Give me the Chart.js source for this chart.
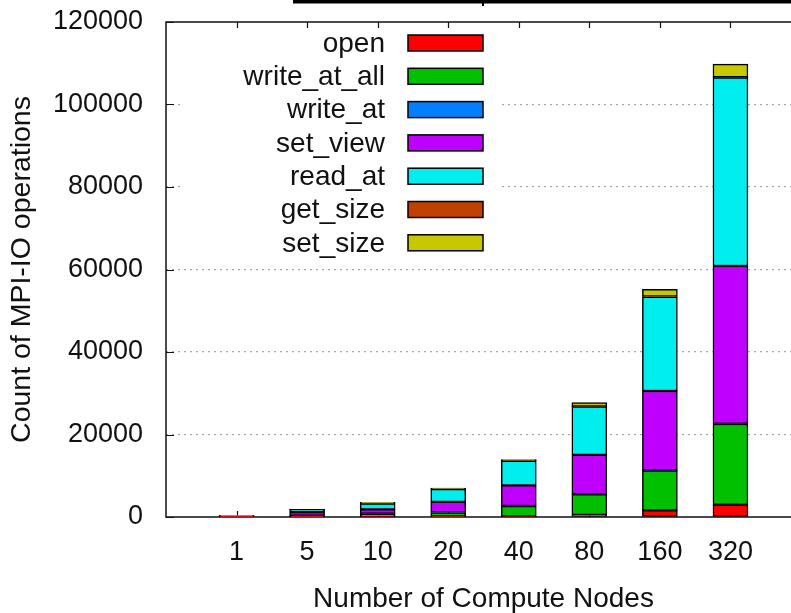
<!DOCTYPE html>
<html>
<head>
<meta charset="utf-8">
<script src="https://cdn.jsdelivr.net/npm/chart.js@4/dist/chart.umd.min.js"></script>
<style>
  html, body { margin: 0; padding: 0; background: #fff; overflow: hidden; }
  #wrap { width: 810px; height: 613px; }
</style>
</head>
<body>
<div id="wrap"><canvas id="c" width="810" height="613"></canvas></div>
<script>
// Number of compute nodes (x categories)
const nodes = ['1', '5', '10', '20', '40', '80', '160', '320'];

// MPI-IO operation counts per node count, stacked bottom to top
const openOps    = [10,  20,  80,   150,  80,   500,   1600,  3000];
const writeAtAll = [60,  250, 650,  950,  2550, 5000,  9650,  19550];
const writeAt    = [10,  30,  100,  100,  50,   50,    50,    100];
const setView    = [150, 900, 1000, 2450, 5000, 9500,  19250, 38200];
const readAt     = [130, 650, 1450, 3100, 5950, 11700, 22850, 45650];
const getSize    = [5,   10,  30,   50,   20,   50,    50,    100];
const setSize    = [30,  80,  250,  200,  250,  950,   1750,  3200];

const yTicks = [0, 20000, 40000, 60000, 80000, 100000, 120000];

const series = [
  ['open',         openOps,    '#ff0000'],
  ['write_at_all', writeAtAll, '#00c000'],
  ['write_at',     writeAt,    '#0080ff'],
  ['set_view',     setView,    '#c000ff'],
  ['read_at',      readAt,     '#00eeee'],
  ['get_size',     getSize,    '#c04000'],
  ['set_size',     setSize,    '#c8c800']
];

const FONT = '"Liberation Sans", Arial, Helvetica, sans-serif';

// Frame, inward tick marks and the key box (drawn under the bars)
const frameAndKey = {
  id: 'frameAndKey',
  beforeDatasetsDraw(chart) {
    const { ctx, chartArea: a, scales: { x, y } } = chart;
    ctx.save();
    // key
    ctx.fillStyle = '#fff';
    ctx.fillRect(183, 25, 317, 238);
    ctx.font = '28px ' + FONT;
    ctx.textAlign = 'right';
    ctx.textBaseline = 'middle';
    chart.data.datasets.forEach((ds, i) => {
      const cy = 43 + i * 33.3;
      ctx.fillStyle = '#111';
      ctx.fillText(ds.label, 385, cy + 1);
      ctx.fillStyle = ds.backgroundColor;
      ctx.fillRect(408, cy - 8, 75, 16);
      ctx.strokeStyle = '#000';
      ctx.lineWidth = 1.5;
      ctx.strokeRect(408, cy - 8, 75, 16);
    });
    // border
    ctx.strokeStyle = '#111';
    ctx.lineWidth = 1.5;
    ctx.beginPath();
    ctx.moveTo(a.right + 20, a.top);
    ctx.lineTo(a.left, a.top);
    ctx.lineTo(a.left, a.bottom);
    ctx.lineTo(a.right + 20, a.bottom);
    ctx.stroke();
    // inward ticks
    ctx.lineWidth = 1.2;
    ctx.beginPath();
    yTicks.forEach(v => {
      const py = Math.round(y.getPixelForValue(v)) + 0.5;
      ctx.moveTo(a.left, py); ctx.lineTo(a.left + 8, py);
    });
    nodes.forEach((n, i) => {
      const px = Math.round(x.getPixelForValue(i + 1)) + 0.5;
      ctx.moveTo(px, a.top); ctx.lineTo(px, a.top + 6);
      ctx.moveTo(px, a.bottom); ctx.lineTo(px, a.bottom - 6);
    });
    ctx.stroke();
    ctx.restore();
  },
  afterDraw(chart) {
    const { ctx } = chart;
    ctx.save();
    ctx.fillStyle = '#000';
    ctx.fillRect(293, 0, 530, 3.5);
    ctx.fillRect(482, 0, 2, 6);
    ctx.restore();
  }
};

new Chart(document.getElementById('c'), {
  type: 'bar',
  data: {
    datasets: series.map(([label, vals, color]) => ({
      label,
      data: vals.map((v, i) => ({ x: i + 1, y: v })),
      backgroundColor: color,
      borderColor: '#000',
      borderWidth: 1.5,
      borderSkipped: false,
      barThickness: 35
    }))
  },
  options: {
    responsive: false,
    animation: false,
    devicePixelRatio: 1,
    layout: { padding: { top: 22, right: 9, left: 0, bottom: 0 } },
    plugins: { legend: { display: false }, tooltip: { enabled: false } },
    scales: {
      x: {
        type: 'linear',
        offset: false,
        stacked: true,
        min: 0,
        max: 9,
        afterFit: s => { s.height = 96; s.paddingLeft = 0; s.paddingRight = 0; },
        grid: { display: false, drawTicks: false },
        border: { display: false },
        ticks: {
          stepSize: 1,
          autoSkip: false,
          maxRotation: 0,
          padding: 19,
          color: '#111',
          font: { family: FONT, size: 27 },
          callback: v => nodes[v - 1] || ''
        },
        title: {
          display: true,
          text: 'Number of Compute Nodes',
          color: '#111',
          font: { family: FONT, size: 28, lineHeight: 1 },
          padding: { top: 0, bottom: 0 }
        }
      },
      y: {
        stacked: true,
        min: 0,
        max: 120000,
        afterFit: s => { s.width = 166; s.paddingTop = 0; s.paddingBottom = 0; },
        afterBuildTicks: s => { s.ticks = yTicks.map(v => ({ value: v })); },
        grid: {
          drawTicks: false,
          lineWidth: 1.2,
          color: c => (c.tick && (c.tick.value === 0 || c.tick.value === 120000)) ? 'rgba(0,0,0,0)' : '#a8a8a8'
        },
        border: { display: false, dash: [2, 4] },
        ticks: {
          padding: 23,
          color: '#111',
          font: { family: FONT, size: 27 },
          callback: v => String(v)
        },
        title: {
          display: true,
          text: 'Count of MPI-IO operations',
          color: '#111',
          font: { family: FONT, size: 28.5, lineHeight: 1.2 },
          padding: { top: 5, bottom: 0 }
        }
      }
    }
  },
  plugins: [frameAndKey]
});
</script>
</body>
</html>
